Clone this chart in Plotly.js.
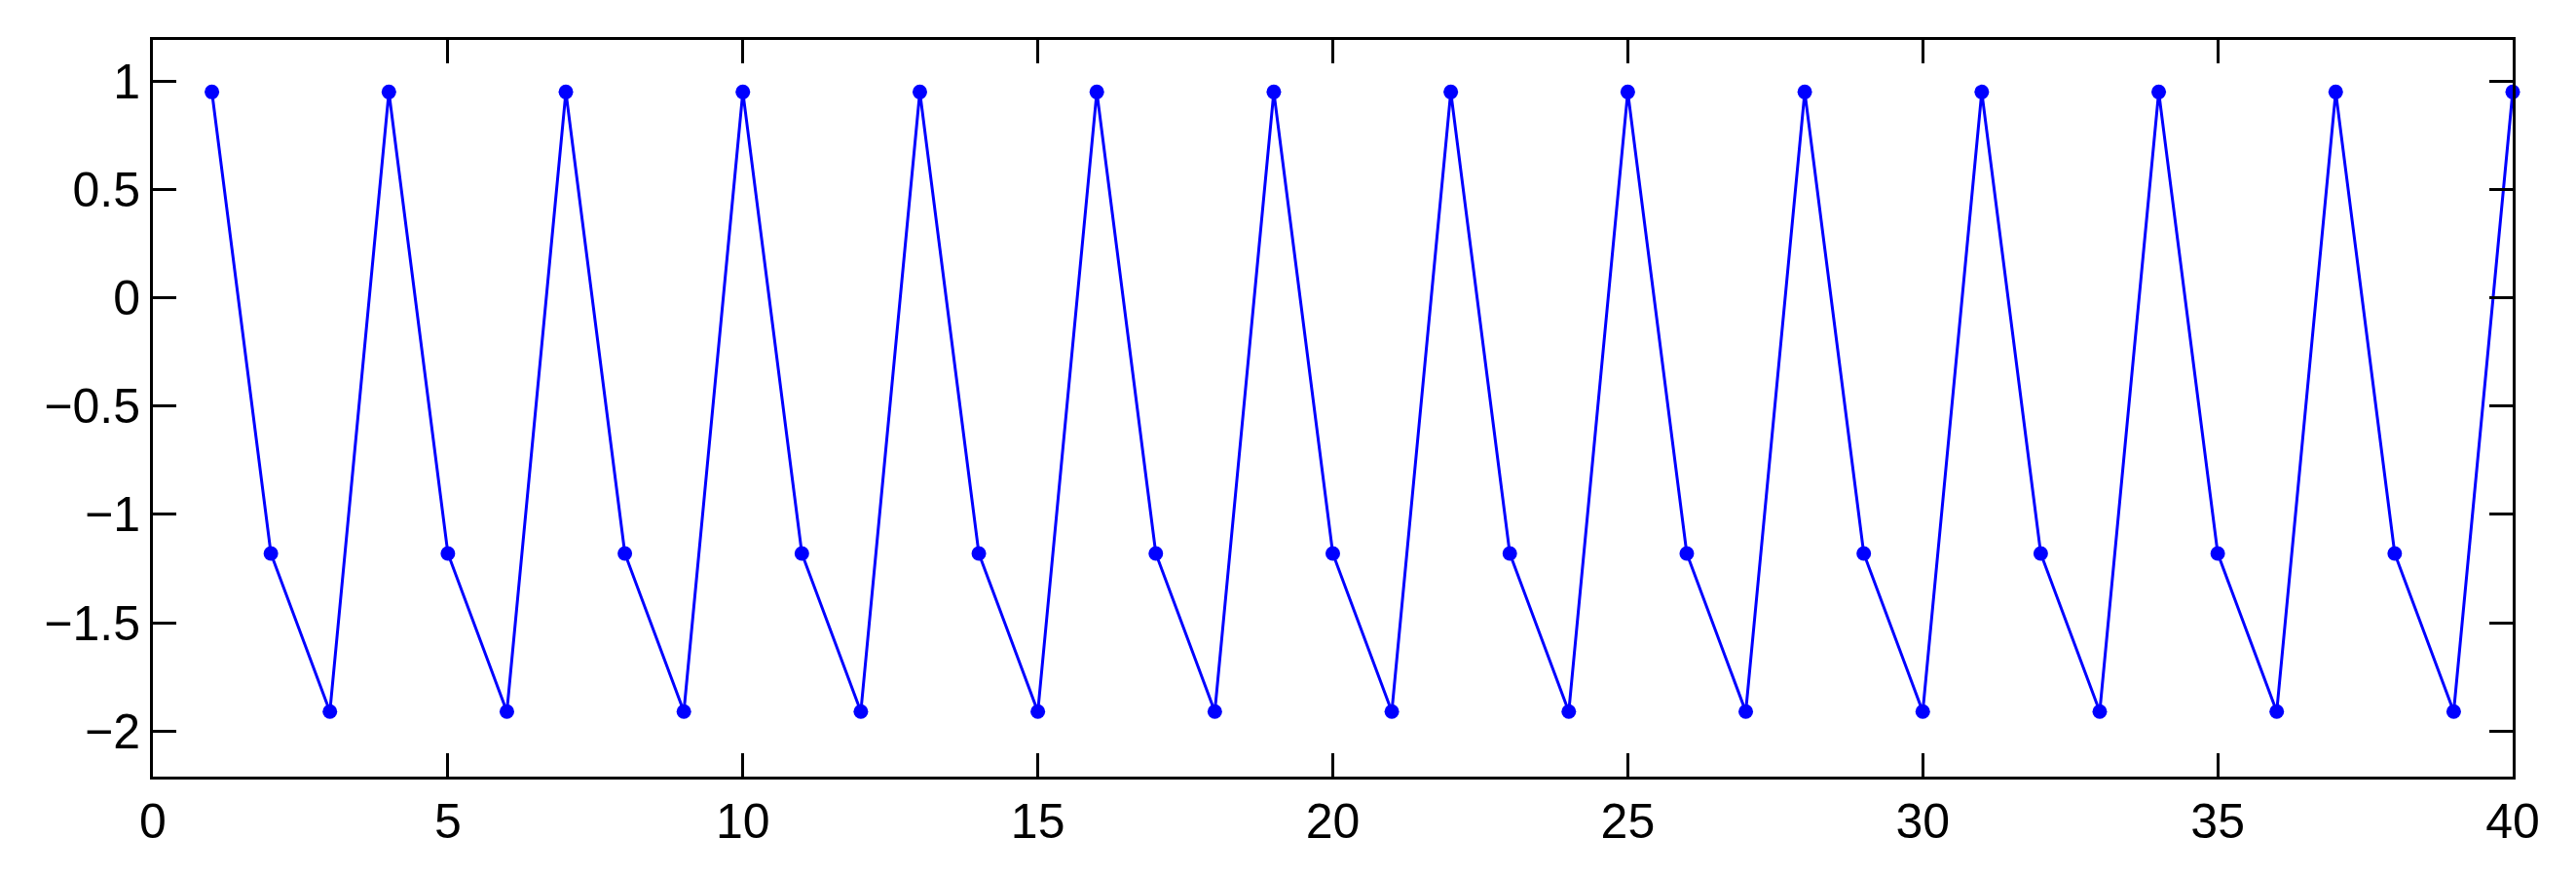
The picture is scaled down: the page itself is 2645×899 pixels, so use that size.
<!DOCTYPE html>
<html>
<head>
<meta charset="utf-8">
<script src="https://cdn.plot.ly/plotly-3.0.1.min.js"></script>
<style>
  html, body { margin: 0; padding: 0; background: #fff; }
  #chart { width: 2645px; height: 899px; }
</style>
</head>
<body>
<div id="chart"></div>
<script>
// sample index and value
const n = [1, 2, 3, 4, 5, 6, 7, 8, 9, 10,
           11, 12, 13, 14, 15, 16, 17, 18, 19, 20,
           21, 22, 23, 24, 25, 26, 27, 28, 29, 30,
           31, 32, 33, 34, 35, 36, 37, 38, 39, 40];
const values = [0.95, -1.18, -1.91, 0.95, -1.18, -1.91, 0.95, -1.18, -1.91, 0.95,
                -1.18, -1.91, 0.95, -1.18, -1.91, 0.95, -1.18, -1.91, 0.95, -1.18,
                -1.91, 0.95, -1.18, -1.91, 0.95, -1.18, -1.91, 0.95, -1.18, -1.91,
                0.95, -1.18, -1.91, 0.95, -1.18, -1.91, 0.95, -1.18, -1.91, 0.95];

const xTicks = [0, 5, 10, 15, 20, 25, 30, 35, 40];
const yTicks = [-2, -1.5, -1, -0.5, 0, 0.5, 1];

const data = [
    {
        x: n,
        y: values,
        type: 'scatter',
        mode: 'lines+markers',
        line: { color: '#0000ff', width: 3 },
        marker: { color: '#0000ff', size: 15 },
        cliponaxis: false
    }
];

const axisStyle = {
    showline: true,
    linecolor: '#000',
    linewidth: 3,
    mirror: 'ticks',
    ticks: 'inside',
    ticklen: 24,
    tickwidth: 3,
    tickcolor: '#000',
    showgrid: false,
    zeroline: false,
    tickfont: { family: 'Liberation Sans, Arial, sans-serif', size: 50, color: '#000' }
};

const layout = {
    width: 2645,
    height: 899,
    margin: { l: 157, r: 65, t: 41, b: 102 },
    paper_bgcolor: '#fff',
    plot_bgcolor: '#fff',
    showlegend: false,
    xaxis: Object.assign({}, axisStyle, {
        range: [0, 40],
        tickmode: 'array',
        tickvals: xTicks
    }),
    yaxis: Object.assign({}, axisStyle, {
        range: [-2.21, 1.19],
        tickmode: 'array',
        tickvals: yTicks
    })
};

Plotly.newPlot('chart', data, layout, { staticPlot: true });
</script>
</body>
</html>
